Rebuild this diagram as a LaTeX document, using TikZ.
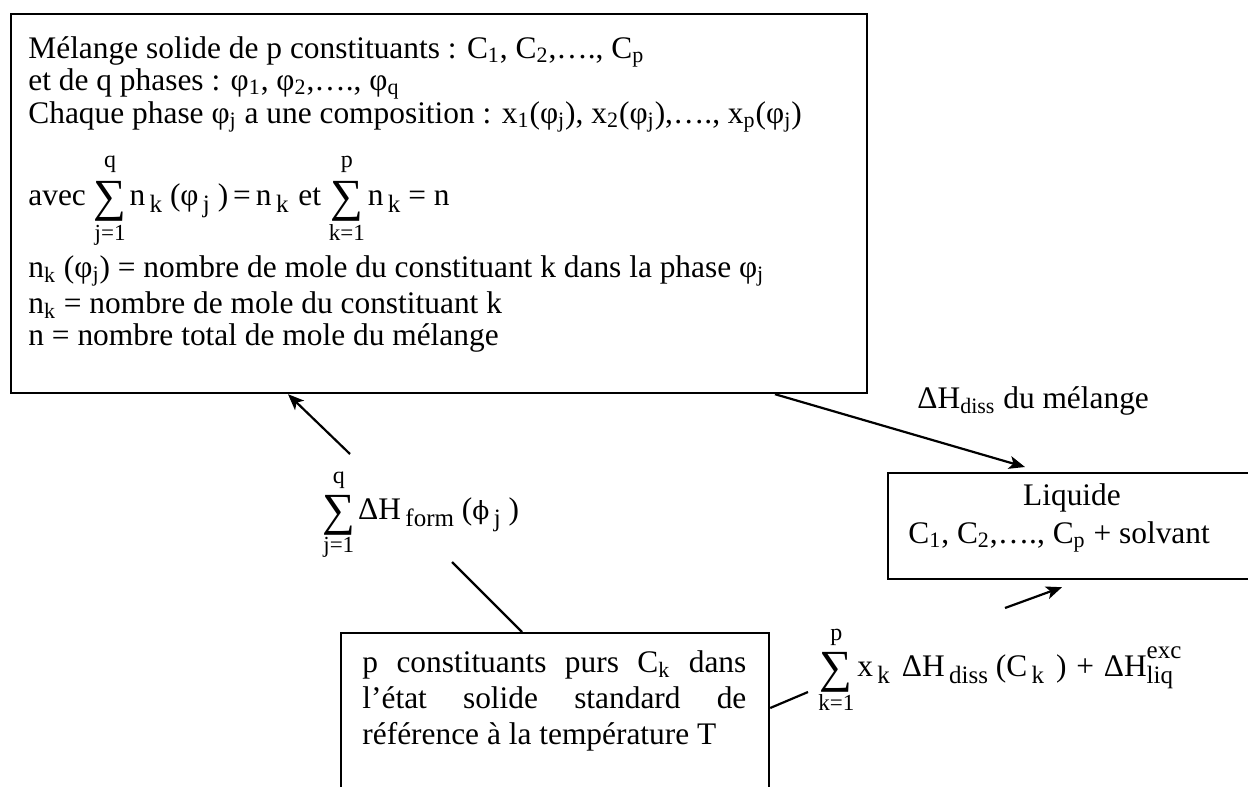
\documentclass[tikz,border=0pt]{standalone}
\usepackage{fontspec}
\setmainfont{Liberation Serif}
\newfontfamily\dvs{DejaVu Serif}
\usetikzlibrary{arrows.meta,calc}
\newcommand\lo[1]{\textsubscript{#1}}
\newcommand\es[1]{\hspace{2.2pt}\raisebox{-3.5pt}{\fontsize{12.5}{12.5}\selectfont #1}}
\newcommand\bigsum{\raisebox{-3pt}{\fontsize{23}{23}\selectfont ∑}}
\newcommand\SumOp[4]{\leavevmode\ooalign{\hfil\raisebox{#3}{\fontsize{12}{12}\selectfont #2}\hfil\cr\hfil\bigsum\hfil\cr\hfil\raisebox{-#4}{\fontsize{11.5}{11.5}\selectfont #1}\hfil\cr}\hspace{1.5pt}}
\newcommand\exl[2]{\ooalign{\raisebox{9pt}{\fontsize{12.5}{12.5}\selectfont #1}\cr\raisebox{-3.5pt}{\fontsize{12.5}{12.5}\selectfont #2}\cr}}
\tikzset{
  boxst/.style={draw, line width=1.1pt, rectangle, inner sep=0pt},
  txt/.style={anchor=base west, inner sep=0pt, font=\fontsize{15.7}{17}\selectfont},
  arr/.style={line width=1.1pt, -{Stealth[length=8pt,width=6.5pt,inset=2pt]}},
  ln/.style={line width=1.1pt}
}
\begin{document}
\begin{tikzpicture}[x=0.5pt,y=-0.5pt]
\clip (0,0) rectangle (1248,787);
\useasboundingbox (0,0) rectangle (1248,787);
% boxes
\node[boxst, anchor=north west, minimum width=428pt, minimum height=189.5pt] (mix) at (10,13) {};
\node[boxst, anchor=north west, minimum width=182pt, minimum height=53pt] (liq) at (887,472) {};
\node[boxst, anchor=north west, minimum width=214pt, minimum height=120pt] (pur) at (340,632) {};
% big box text
\node[txt] (m1) at (28,58) {Mélange solide de p constituants : C\lo{1}, C\lo{2},…., C\lo{p}};
\node[txt] (m2) at (28,90) {et de q phases : φ\lo{1}, φ\lo{2},…., φ\lo{q}};
\node[txt] (m3) at (28,123) {Chaque phase φ\lo{j} a une composition : x\lo{1}(φ\lo{j}), x\lo{2}(φ\lo{j}),…., x\lo{p}(φ\lo{j})};
\node[txt] (m4) at (28,205) {avec \SumOp{j=1}{q}{19pt}{17.5pt}n\es{k} (φ\es{j} )\hspace{2.5pt}=\hspace{2.5pt}n\es{k} \hspace{1pt}et \SumOp{k=1}{p}{19pt}{17.5pt}n\es{k} = n};
\node[txt] (m5) at (28,277) {n\lo{k} (φ\lo{j}) = nombre de mole du constituant k dans la phase φ\lo{j}};
\node[txt] (m6) at (28,313) {n\lo{k} = nombre de mole du constituant k};
\node[txt] (m7) at (28,345) {n = nombre total de mole du mélange};
% liquid box text
\node[txt, anchor=base] (l1) at (1072,505) {Liquide};
\node[txt] (l2) at (908,543) {C\lo{1}, C\lo{2},…., C\lo{p} + solvant};
% pure box text
\node[txt] (p1) at (362,672) {\makebox[192pt][s]{p constituants purs C\lo{k} dans}};
\node[txt] (p2) at (362,708) {\makebox[192pt][s]{l’état solide standard de}};
\node[txt] (p3) at (362,744) {référence à la température T};
% labels
\node[txt] (dm) at (917,408) {ΔH\lo{diss} du mélange};
\node[txt] (sf) at (322,519) {\SumOp{j=1}{q}{18pt}{16.5pt}ΔH\es{form} ({\dvs\fontsize{12.5}{12.5}\selectfont ϕ}\es{j} )};
\node[txt] (sd) at (818,676) {\SumOp{k=1}{p}{18pt}{17pt}x\es{k}\hspace{2pt} ΔH\es{diss} (C\es{k}\hspace{2pt} )\hspace{1pt} +\hspace{1pt} ΔH\exl{exc}{liq}};
% connectors
\coordinate (a1s) at (350,454);
\draw[arr] (a1s) -- ($(mix.south west)+(278,0)$);
\draw[arr] ($(mix.south west)+(765,0)$) -- ($(liq.north west)+(138,-5)$);
\coordinate (a3s) at (1005,608);
\draw[arr] (a3s) -- ($(liq.south west)+(175,7)$);
\coordinate (l4s) at (452,562);
\draw[ln] (l4s) -- ($(pur.north west)+(182,0)$);
\coordinate (l5e) at (808,692);
\draw[ln] ($(pur.north east)+(0,76)$) -- (l5e);
\end{tikzpicture}
\end{document}
